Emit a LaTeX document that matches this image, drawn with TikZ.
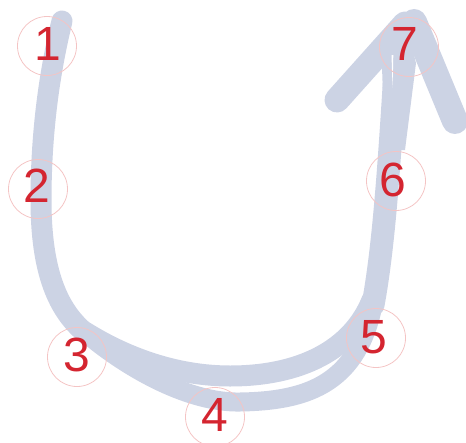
\documentclass[tikz,border=0pt]{standalone}
\usepackage{fontspec}
\setmainfont{Liberation Sans}
\definecolor{brushc}{HTML}{CCD3E4}
\definecolor{ringc}{HTML}{F4C4C4}
\definecolor{numc}{HTML}{D42530}
\begin{document}
\begin{tikzpicture}[x=1pt,y=-1pt,
  brush/.style={draw=brushc, line width=19pt, line cap=round, line join=round},
  marker/.style={circle, draw=ringc, line width=0.8pt, minimum size=59pt, inner sep=0pt},
  digit/.style={text=numc, font=\fontsize{48}{48}\selectfont, inner sep=0pt}]
\useasboundingbox (0,0) rectangle (466,442);
% left descending stroke
\draw[brush, line width=21pt] (62,21) .. controls (50,70) and (41,130) .. (41,200) .. controls (41,272) and (58,312) .. (88,335);
% outer bottom loop
\draw[brush, line width=19pt] (88,335) .. controls (130,370) and (190,403) .. (240,402) .. controls (305,401) and (355,385) .. (372,310);
% inner bottom loop
\draw[brush, line width=21pt] (85,332) .. controls (130,360) and (180,376) .. (230,376) .. controls (300,376) and (352,350) .. (372,300);
% shaft
\draw[brush, line width=23pt] (373,305) .. controls (385,240) and (390,150) .. (397,40);
\fill[brushc] (385,150) -- (382,67) -- (404,16) -- (416,63) -- (405,150) -- cycle;
% arrow barbs
\draw[brush, line width=25pt] (337,100) -- (405,24);
\draw[brush, line width=26pt] (414,22) -- (455,121);
\fill[white] (391.5,55) -- (393.3,55) -- (392.6,88) -- cycle;
% markers
\node[marker] (m1) at (47,46) {};
\node[marker] (m2) at (38,189) {};
\node[marker] (m3) at (77,357) {};
\node[marker] (m4) at (215,417) {};
\node[marker] (m5) at (376,338) {};
\node[marker] (m6) at (396,181) {};
\node[marker] (m7) at (409,47) {};
\node[digit] (d1) at (48,44) {1};
\node[digit] (d2) at (37,186) {2};
\node[digit] (d3) at (77,355) {3};
\node[digit] (d4) at (215,415) {4};
\node[digit] (d5) at (374,337) {5};
\node[digit] (d6) at (393,180) {6};
\node[digit] (d7) at (405,44) {7};
\end{tikzpicture}
\end{document}
